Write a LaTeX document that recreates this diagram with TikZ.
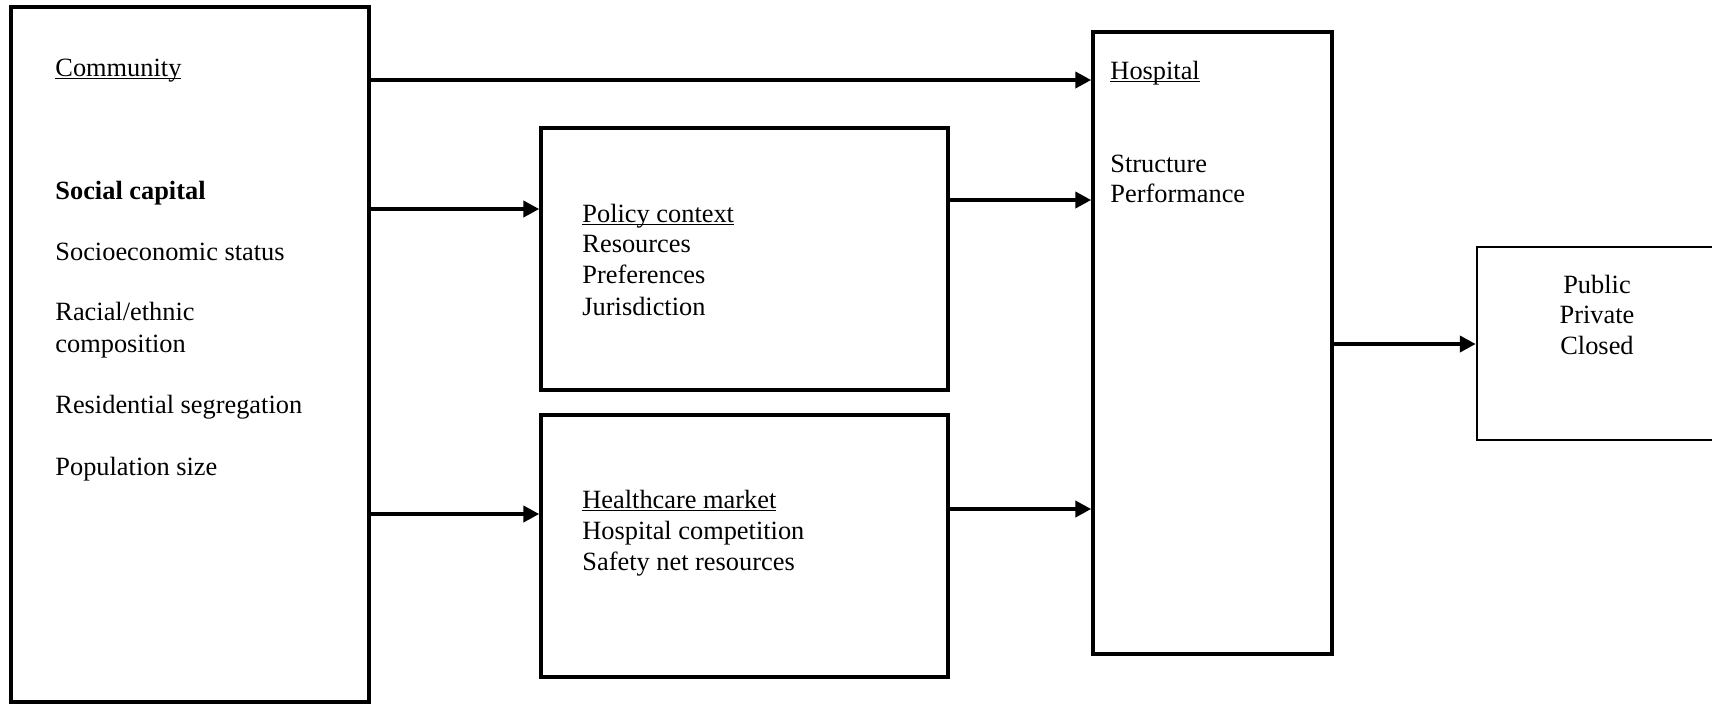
\documentclass[tikz,border=0pt]{standalone}
\usepackage{fontspec}
\setmainfont{Liberation Serif}
\usetikzlibrary{arrows.meta}
\newcommand{\undertext}[1]{\setbox0\hbox{#1}\rlap{\rule[-1.5pt]{\wd0}{0.6pt}}\box0}

\begin{document}
\begin{tikzpicture}[x=0.44pt,y=-0.44pt]

        \tikzstyle{box}=[draw,rectangle,line width=1.5pt,inner sep=0pt]
        \tikzstyle{lbl}=[anchor=base west,inner sep=0pt,font=\fontsize{11.6}{13.8}\selectfont]
        \tikzstyle{arr}=[line width=1.9pt,-{Triangle[length=7pt,width=7pt]}]

        \useasboundingbox (0,0) rectangle (1712,703);

        % boxes
        \node[box, minimum width=157.5pt, minimum height=305.8pt] (comm) at (190,354.5) {};
        \node[box, minimum width=179.1pt, minimum height=115.3pt] (policy) at (744.5,259) {};
        \node[box, minimum width=179.1pt, minimum height=115.3pt] (market) at (744.5,546) {};
        \node[box, minimum width=105.2pt, minimum height=273.7pt] (hosp) at (1212.5,343) {};
        \node[box, line width=1.1pt, minimum width=114.4pt, minimum height=84.9pt] (outcome) at (1607,343.5) {};

        % community
        \node[lbl] (t_comm) at (55,76) {\undertext{Community}};
        \node[lbl] (t_social) at (55,199) {\bfseries Social capital};
        \foreach \y / \t / \n in {260/Socioeconomic status/ses, 320/Racial\slash ethnic/race, 352/composition/comp, 413/Residential segregation/seg, 475/Population size/pop} {
            \node[lbl] (t_\n) at (55,\y) {\t};
        }

        % policy context
        \node[lbl] (t_policy) at (582,222) {\undertext{Policy context}};
        \foreach \y / \t / \n in {252/Resources/res, 283/Preferences/pref, 315/Jurisdiction/jur} {
            \node[lbl] (t_\n) at (582,\y) {\t};
        }

        % healthcare market
        \node[lbl] (t_market) at (582,508) {\undertext{Healthcare market}};
        \foreach \y / \t / \n in {539/Hospital competition/comp2, 570/Safety net resources/safety} {
            \node[lbl] (t_\n) at (582,\y) {\t};
        }

        % hospital
        \node[lbl] (t_hosp) at (1110,79) {\undertext{Hospital}};
        \foreach \y / \t / \n in {172/Structure/struct, 202/Performance/perf} {
            \node[lbl] (t_\n) at (1110,\y) {\t};
        }

        % outcome
        \foreach \y / \t / \n in {293/Public/pub, 323/Private/priv, 354/Closed/closed} {
            \node[lbl, anchor=base] (t_\n) at (1597,\y) {\t};
        }

        % arrows
        \draw[arr] (comm.east |- 0,80) -- (hosp.west |- 0,80);
        \draw[arr] (comm.east |- 0,209) -- (policy.west |- 0,209);
        \draw[arr] (comm.east |- 0,514) -- (market.west |- 0,514);
        \draw[arr] (policy.east |- 0,200) -- (hosp.west |- 0,200);
        \draw[arr] (market.east |- 0,509) -- (hosp.west |- 0,509);
        \draw[arr] (hosp.east |- 0,344) -- (outcome.west |- 0,344);

    \end{tikzpicture}
\end{document}
